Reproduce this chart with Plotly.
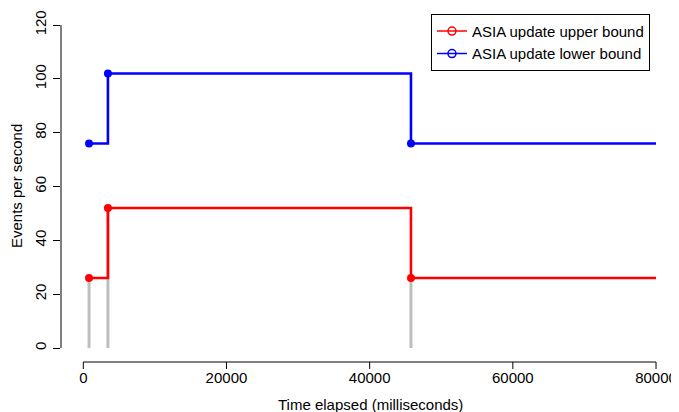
import plotly.graph_objects as go

# change points (ms) and the rates (events/s)
change_ms = [800, 3440, 45770]
end_ms = 80000
upper_rate = [26, 52, 26]
lower_rate = [76, 102, 76]

x_ticks = [0, 20000, 40000, 60000, 80000]
y_ticks = [0, 20, 40, 60, 80, 100, 120]

FONT = "Liberation Sans, Arial, Helvetica, sans-serif"
GRAY = "#bebebe"
FS = 15

fig = go.Figure()

# grey drop lines from zero up to the upper-bound rate at each change
gx, gy = [], []
for x, r in zip(change_ms, upper_rate):
    gx += [x, x, None]
    gy += [0, r, None]
fig.add_trace(go.Scatter(x=gx, y=gy, mode="lines", line=dict(color=GRAY, width=3),
                         showlegend=False, hoverinfo="skip"))

for rates, col in [(upper_rate, "#ff0000"), (lower_rate, "#0000ff")]:
    fig.add_trace(go.Scatter(x=change_ms + [end_ms], y=rates + [rates[-1]],
                             mode="lines", line=dict(color=col, width=2.6, shape="hv"),
                             showlegend=False))
    fig.add_trace(go.Scatter(x=change_ms, y=rates, mode="markers",
                             marker=dict(color=col, size=8), showlegend=False))

# legend entries (open circle on a line, like R's legend)
for name, col in [("ASIA update upper bound", "#ff0000"),
                  ("ASIA update lower bound", "#0000ff")]:
    fig.add_trace(go.Scatter(x=[None], y=[None], mode="lines+markers", name=name,
                             line=dict(color=col, width=1.5),
                             marker=dict(symbol="circle-open", size=8, color=col,
                                         line=dict(width=1.5))))

# R-style axis lines that only span the tick range
fig.add_shape(type="line", xref="x", yref="paper", x0=0, x1=80000, y0=0, y1=0,
              line=dict(color="black", width=1))
fig.add_shape(type="line", xref="paper", yref="y", x0=0, x1=0, y0=0, y1=120,
              line=dict(color="black", width=1))
# x tick marks drawn by hand so the labels can sit closer to the axis
for t in x_ticks:
    fig.add_shape(type="line", xref="x", yref="paper", x0=t, x1=t,
                  ysizemode="pixel", yanchor=0, y0=0, y1=-7,
                  line=dict(color="black", width=1))

# page body has an 8px margin, so the figure is drawn 8px smaller
fig.update_layout(
    width=671, height=404,
    margin=dict(l=53, r=0, t=2, b=50),
    paper_bgcolor="white", plot_bgcolor="white",
    font=dict(family=FONT, size=FS, color="black"),
    legend=dict(x=0.953, y=0.989, xanchor="right", yanchor="top",
                bordercolor="black", borderwidth=1, bgcolor="white",
                font=dict(size=FS), tracegroupgap=0),
    annotations=[
        dict(text="Time elapsed (milliseconds)", xref="paper", yref="paper",
             x=0.5, y=0, yshift=-42, xanchor="center", yanchor="middle",
             showarrow=False, font=dict(size=FS)),
        dict(text="Events per second", xref="paper", yref="paper",
             x=0, y=0.5, xshift=-45, xanchor="center", yanchor="middle",
             textangle=-90, showarrow=False, font=dict(size=FS)),
    ],
)
fig.update_xaxes(range=[-3115, 83210], tickvals=x_ticks,
                 ticktext=[str(v) for v in x_ticks],
                 showgrid=False, zeroline=False, showline=False,
                 ticks="", ticklabelstandoff=5)
fig.update_yaxes(range=[-5.2, 125.6], tickvals=y_ticks, tickangle=-90,
                 showgrid=False, zeroline=False, showline=False,
                 ticks="outside", ticklen=7, tickcolor="black",
                 ticklabelstandoff=1)

fig.write_html("out.html")
